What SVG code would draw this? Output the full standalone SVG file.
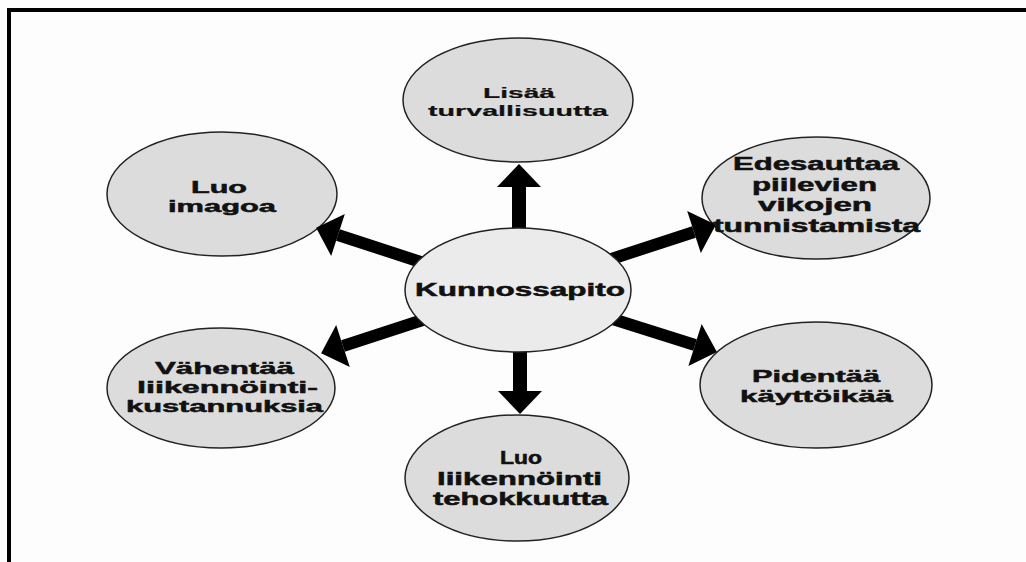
<svg xmlns="http://www.w3.org/2000/svg" width="1026" height="562" viewBox="0 0 1026 562">
<style>
.bg{fill:#fdfdfd}
.frame{fill:none;stroke:#000;stroke-width:4}
.node{fill:#dcdcdc;stroke:#222;stroke-width:1.5}
.center{fill:#ebebeb;stroke:#222;stroke-width:1.5}
.t{font-family:"Liberation Sans",Arial,sans-serif;font-weight:bold;fill:#111;stroke:#111;stroke-width:0.5;font-size:17px}
.s18{font-size:18px}
.s17h{font-size:17.5px}
.s16{font-size:16.5px}
.s15{font-size:15.5px;stroke-width:0.2}
.conn{stroke:#000;fill:none}
</style>
<defs>
<marker id="head" markerUnits="userSpaceOnUse" markerWidth="24" markerHeight="44" refX="0" refY="22" orient="auto" overflow="visible">
<path d="M0,0 L23,22 L0,44 Z" fill="#000"/>
</marker>
</defs>
<rect class="bg" x="0" y="0" width="1026" height="562"/>
<path class="frame" d="M9,562 V10 H1026"/>

<g id="node-lisaa">
<ellipse class="node" cx="518" cy="100" rx="115" ry="62"/>
<text class="t s15" x="483" y="98" textLength="72" lengthAdjust="spacingAndGlyphs">Lisää</text>
<text class="t s15" x="428" y="116" textLength="180" lengthAdjust="spacingAndGlyphs">turvallisuutta</text>
</g>
<g id="node-edesauttaa">
<ellipse class="node" cx="816" cy="198" rx="114" ry="61"/>
<text class="t s17h" x="733" y="170" textLength="166" lengthAdjust="spacingAndGlyphs">Edesauttaa</text>
<text class="t s17h" x="752" y="190.5" textLength="125" lengthAdjust="spacingAndGlyphs">piilevien</text>
<text class="t s17h" x="758" y="211" textLength="114" lengthAdjust="spacingAndGlyphs">vikojen</text>
<text class="t s17h" x="713" y="231.5" textLength="207" lengthAdjust="spacingAndGlyphs">tunnistamista</text>
</g>
<g id="node-luo-imagoa">
<ellipse class="node" cx="222" cy="194" rx="115" ry="62"/>
<text class="t s16" x="191" y="193" textLength="56" lengthAdjust="spacingAndGlyphs">Luo</text>
<text class="t s16" x="168" y="212" textLength="108" lengthAdjust="spacingAndGlyphs">imagoa</text>
</g>
<g id="node-vahentaa">
<ellipse class="node" cx="221" cy="388" rx="114" ry="60"/>
<text class="t s16" x="155" y="374" textLength="139" lengthAdjust="spacingAndGlyphs">Vähentää</text>
<text class="t s16" x="137" y="393" textLength="181" lengthAdjust="spacingAndGlyphs">liikennöinti-</text>
<text class="t s16" x="126" y="412" textLength="197" lengthAdjust="spacingAndGlyphs">kustannuksia</text>
</g>
<g id="node-pidentaa">
<ellipse class="node" cx="816" cy="385" rx="116" ry="63"/>
<text class="t" x="752" y="382" textLength="128" lengthAdjust="spacingAndGlyphs">Pidentää</text>
<text class="t" x="740" y="402" textLength="153" lengthAdjust="spacingAndGlyphs">käyttöikää</text>
</g>
<g id="node-luo-liikennointi">
<ellipse class="node" cx="517" cy="478" rx="112" ry="63"/>
<text class="t s17h" x="500" y="464" textLength="42" lengthAdjust="spacingAndGlyphs">Luo</text>
<text class="t s17h" x="437" y="484.5" textLength="165" lengthAdjust="spacingAndGlyphs">liikennöinti</text>
<text class="t s17h" x="433" y="505" textLength="175" lengthAdjust="spacingAndGlyphs">tehokkuutta</text>
</g>

<g id="connectors">
<line class="conn" stroke-width="14" x1="519" y1="290" x2="519" y2="187" marker-end="url(#head)"/>
<line class="conn" stroke-width="14" x1="520" y1="290" x2="520" y2="391" marker-end="url(#head)"/>
<line class="conn" stroke-width="12" x1="433" y1="266" x2="338" y2="235" marker-end="url(#head)"/>
<line class="conn" stroke-width="12" x1="599" y1="263" x2="694" y2="232" marker-end="url(#head)"/>
<line class="conn" stroke-width="12" x1="438" y1="315" x2="343" y2="346" marker-end="url(#head)"/>
<line class="conn" stroke-width="12" x1="600" y1="315" x2="695" y2="345" marker-end="url(#head)"/>
</g>

<g id="node-kunnossapito">
<ellipse class="center" cx="518" cy="290" rx="113" ry="62"/>
<text class="t s18" x="415" y="296" textLength="210" lengthAdjust="spacingAndGlyphs">Kunnossapito</text>
</g>
</svg>
